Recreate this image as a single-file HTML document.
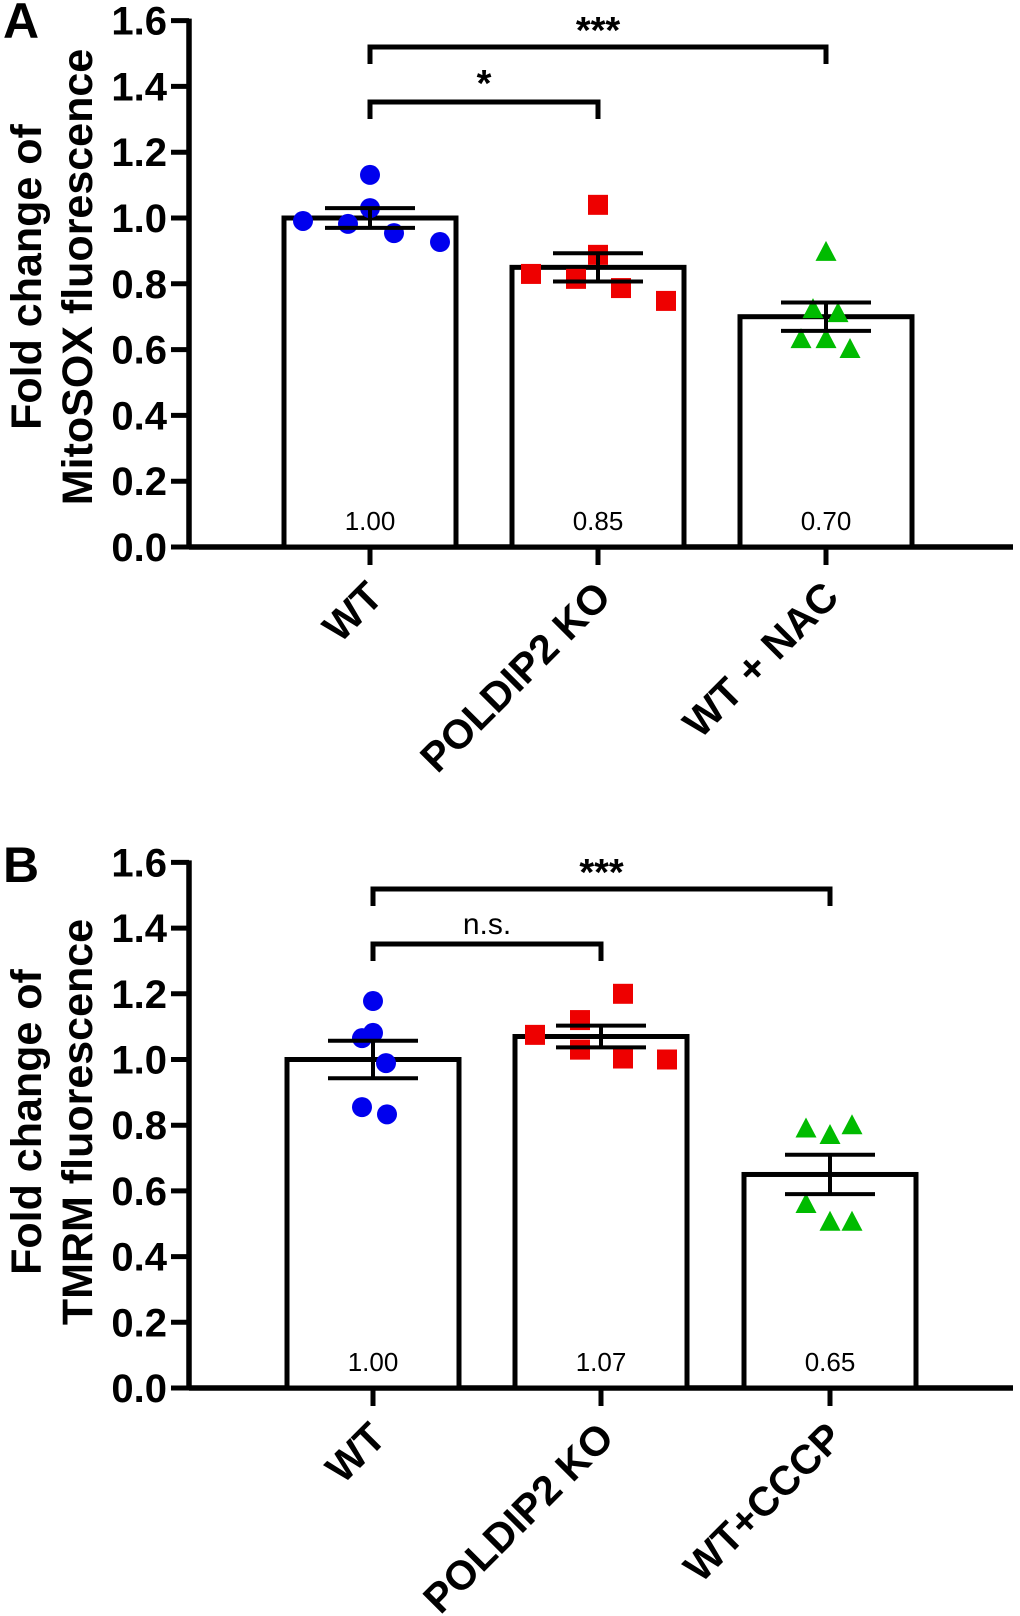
<!DOCTYPE html>
<html><head><meta charset="utf-8"><style>
html,body{margin:0;padding:0;background:#fff}
svg{display:block}
text{font-family:"Liberation Sans",Arial,sans-serif}
</style></head><body>
<svg id="fig" width="1020" height="1616" viewBox="0 0 1020 1616"></svg>
<script>
const categoriesA = ["WT", "POLDIP2 KO", "WT + NAC"];
const meansA = [1.00, 0.85, 0.70];
const meanLabelsA = ["1.00", "0.85", "0.70"];
const semA = [0.03, 0.043, 0.043];
const pointsA_WT = [0.991, 0.982, 1.131, 1.03, 0.954, 0.927];
const pointsA_KO = [0.83, 0.815, 1.04, 0.888, 0.787, 0.748];
const pointsA_NAC = [0.632, 0.723, 0.897, 0.632, 0.711, 0.602];

const categoriesB = ["WT", "POLDIP2 KO", "WT+CCCP"];
const meansB = [1.00, 1.07, 0.65];
const meanLabelsB = ["1.00", "1.07", "0.65"];
const semB = [0.057, 0.033, 0.06];
const pointsB_WT = [1.065, 1.178, 1.081, 0.989, 0.855, 0.833];
const pointsB_KO = [1.075, 1.12, 1.03, 1.20, 1.003, 1.0];
const pointsB_CCCP = [0.79, 0.56, 0.77, 0.506, 0.80, 0.506];

const yTicks = ["0.0","0.2","0.4","0.6","0.8","1.0","1.2","1.4","1.6"];

const NS = "http://www.w3.org/2000/svg";
const svg = document.getElementById("fig");
function mk(tag, attrs, parent) {
  const e = document.createElementNS(NS, tag);
  for (const k in attrs) e.setAttribute(k, attrs[k]);
  (parent || svg).appendChild(e);
  return e;
}

const offsA = [[-67,-22,0,0,24,70],[-67,-22,0,0,23,68],[-25,-13,0,0,12,24]];
const offsB = [[-11,0,0,13,-11,14],[-66,-21,-21,22,22,66],[-24,-24,0,0,22,22]];

function drawPanel(cfg) {
  const g = mk("g", {});
  
  
  const y = v => cfg.base - v * cfg.scale;
  const ax = 189;
  const L = mk("text", {x: 3, y: cfg.letterY, "font-size": 50, "font-weight": "bold"}, g);
  L.textContent = cfg.letter;
  
  
  const tg = mk("g", {transform: `rotate(-90)`}, g);
  
  
  const t1 = mk("text", {x: -cfg.titleCY, y: 41, "font-size": 43, "font-weight": "bold", "text-anchor": "middle"}, tg);
  t1.textContent = "Fold change of";
  const t2 = mk("text", {x: -cfg.titleCY, y: 92, "font-size": 43, "font-weight": "bold", "text-anchor": "middle"}, tg);
  t2.textContent = cfg.title2;
  const yl = mk("line", {x1: ax, y1: y(1.6) - 2, x2: ax, y2: cfg.base + 2.5, stroke: "#000", "stroke-width": 5.5}, g);
  
  
  yTicks.forEach(t => {
    const v = parseFloat(t);
    mk("line", {x1: 171, y1: y(v), x2: ax, y2: y(v), stroke: "#000", "stroke-width": 5}, g);
    const tx = mk("text", {x: 167, y: y(v) + 14, "font-size": 40, "font-weight": "bold", "text-anchor": "end"}, g);
    tx.textContent = t;
    
    
  });
  const xl = mk("line", {x1: ax, y1: cfg.base, x2: 1013, y2: cfg.base, stroke: "#000", "stroke-width": 5.5}, g);
  
  
  cfg.cats.forEach((c, i) => {
    const cx = cfg.centers[i];
    const v = cfg.means[i];
    const bar = mk("rect", {x: cx - 86, y: y(v), width: 172, height: cfg.base - y(v), fill: "#fff", stroke: "#000", "stroke-width": 5}, g);
    
    
    mk("line", {x1: cx, y1: cfg.base, x2: cx, y2: cfg.base + 18, stroke: "#000", "stroke-width": 5}, g);
    const vl = mk("text", {x: cx, y: cfg.base - 17, "font-size": 26, "text-anchor": "middle"}, g);
    vl.textContent = cfg.labels[i];
    
    
    const xt = mk("text", {x: 0, y: 0, "font-size": 41, "font-weight": "bold", "text-anchor": "end",
      transform: `translate(${cx + 15},${cfg.base + 52}) rotate(-45)`}, g);
    xt.textContent = c;
    
    
    cfg.points[i].forEach((p, j) => {
      const px = cx + cfg.offs[i][j], py = y(p);
      let m;
      if (i === 0) m = mk("circle", {cx: px, cy: py, r: 10, fill: "#0000ee"}, g);
      else if (i === 1) m = mk("rect", {x: px - 10, y: py - 10, width: 20, height: 20, fill: "#ee0000"}, g);
      else m = mk("polygon", {points: `${px},${py - 11} ${px + 10.5},${py + 9} ${px - 10.5},${py + 9}`, fill: "#00bb00"}, g);
      
      
    });
    const hi = y(v + cfg.sem[i]), lo = y(v - cfg.sem[i]);
    const eg = mk("g", {stroke: "#000", "stroke-width": 4}, g);
    
    
    mk("line", {x1: cx, y1: hi, x2: cx, y2: lo}, eg);
    mk("line", {x1: cx - 45, y1: hi, x2: cx + 45, y2: hi}, eg);
    mk("line", {x1: cx - 45, y1: lo, x2: cx + 45, y2: lo}, eg);
  });
  cfg.brackets.forEach(b => {
    const x1 = cfg.centers[b.from], x2 = cfg.centers[b.to];
    const p = mk("polyline", {points: `${x1},${b.y + 17} ${x1},${b.y} ${x2},${b.y} ${x2},${b.y + 17}`, fill: "none", stroke: "#000", "stroke-width": 5}, g);
    
    
    const t = mk("text", {x: (x1 + x2) / 2, y: b.y - b.dy, "font-size": b.fs, "font-weight": b.fw, "text-anchor": "middle"}, g);
    t.textContent = b.label;
    
    
  });
}

drawPanel({name: "panel-a", letter: "A", letterY: 38, base: 547, scale: 329, titleCY: 277,
  title2: "MitoSOX fluorescence", cats: categoriesA, centers: [370, 598, 826],
  means: meansA, labels: meanLabelsA, sem: semA, points: [pointsA_WT, pointsA_KO, pointsA_NAC], offs: offsA,
  brackets: [{from: 0, to: 2, y: 47, label: "***", fs: 38, fw: "bold", dy: 4}, {from: 0, to: 1, y: 102, label: "*", fs: 38, fw: "bold", dy: 6}]});

drawPanel({name: "panel-b", letter: "B", letterY: 882, base: 1388, scale: 328.5, titleCY: 1122,
  title2: "TMRM fluorescence", cats: categoriesB, centers: [373, 601, 830],
  means: meansB, labels: meanLabelsB, sem: semB, points: [pointsB_WT, pointsB_KO, pointsB_CCCP], offs: offsB,
  brackets: [{from: 0, to: 2, y: 889, label: "***", fs: 38, fw: "bold", dy: 4}, {from: 0, to: 1, y: 944, label: "n.s.", fs: 30, fw: "normal", dy: 10}]});
</script>
</body></html>
